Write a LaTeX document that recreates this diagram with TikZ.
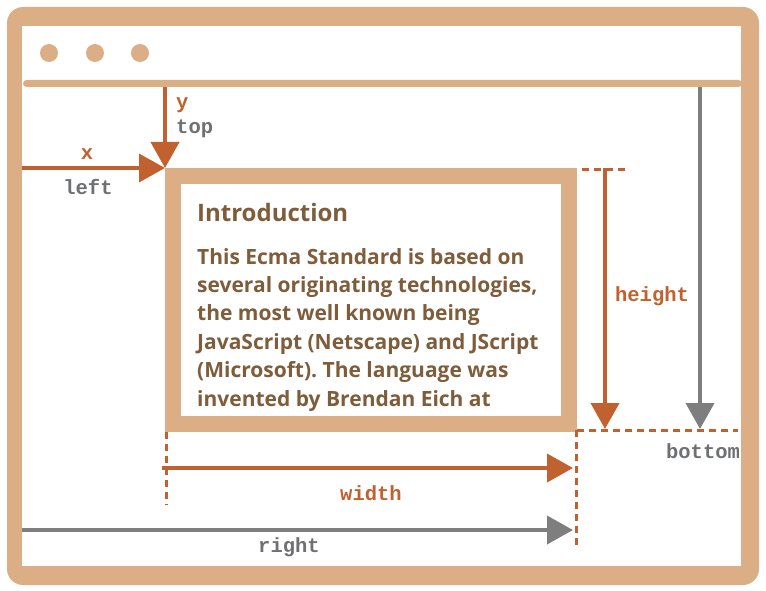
\documentclass[tikz,border=0pt]{standalone}
\usepackage{fontspec}
\setmainfont{Open Sans}
\newfontfamily\monolabel{Liberation Mono}
\usetikzlibrary{arrows.meta,positioning}
\definecolor{frametan}{HTML}{DCAE85}
\definecolor{dimorange}{HTML}{C0612F}
\definecolor{dimgrey}{HTML}{7E7E7E}
\definecolor{textbrown}{HTML}{7E5D3B}
\definecolor{labelgrey}{HTML}{6E7072}
\frenchspacing

\begin{document}
\begin{tikzpicture}[x=1pt,y=-1pt,>={Triangle[length=26pt,width=28pt]},
  dim line/.style={line width=4pt,->},
  orange dim/.style={dim line,draw=dimorange},
  grey dim/.style={dim line,draw=dimgrey},
  guide/.style={draw=dimorange,line width=3pt,dash pattern=on 7pt off 5pt},
  coord label/.style={font=\monolabel\bfseries\fontsize{20.5}{20.5}\selectfont,inner sep=0pt},
  orange label/.style={coord label,text=dimorange},
  grey label/.style={coord label,text=labelgrey}]
   \useasboundingbox (0,0) rectangle (766,591);
   % browser window
   \node[fill=frametan,rounded corners=16pt,minimum width=752pt,minimum height=578pt,inner sep=0pt] (window) at (383,296) {};
   \node[fill=white,minimum width=719pt,minimum height=540pt,inner sep=0pt] (viewport) at (381.5,296) {};
   \foreach \cx in {49,95,140}
     \fill[frametan] (\cx,53) circle (9pt);
   \node[fill=frametan,rounded corners=3.5pt,minimum width=719pt,minimum height=7pt,inner sep=0pt] (bar) at (382.5,83.5) {};
   % the element
   \node[draw=frametan,line width=16pt,minimum width=396pt,minimum height=248pt,inner sep=0pt] (elem) at (371,300) {};
   \node[anchor=base west,inner sep=0pt,text=textbrown,font=\bfseries\fontsize{24}{24}\selectfont] (title) at (197,222) {Introduction};
   \node[anchor=north west,inner sep=0pt,align=left,text=textbrown,font=\bfseries\fontsize{21}{28.4}\selectfont] (para) at (197,248)
     {This Ecma Standard is based on\\several originating technologies,\\the most well known being\\JavaScript (Netscape) and JScript\\(Microsoft). The language was\\invented by Brendan Eich at};
   % guides
   \coordinate (top guide) at (628,170);
   \coordinate (bottom guide) at (738,430);
   \coordinate (width guide) at (166,505);
   \coordinate (right guide) at (576,547);
   \draw[guide] (582,170) -- (top guide);
   \draw[guide] (577,430) -- (bottom guide);
   \draw[guide] (166,432) -- (width guide);
   \draw[guide] (576,430) -- (right guide);
   % arrows
   \coordinate (height top) at (605,168);
   \coordinate (height end) at (605,429);
   \coordinate (bottom top) at (700,87);
   \coordinate (bottom end) at (700,429);
   \coordinate (width start) at (162,468);
   \coordinate (width end) at (573,468);
   \coordinate (right start) at (22,530);
   \coordinate (right end) at (573,530);
   \draw[orange dim] (elem.north west |- bar.south) -- (elem.north west);
   \draw[orange dim] (viewport.west |- elem.north west) -- (elem.north west);
   \draw[orange dim] (height top) -- (height end);
   \draw[grey dim] (bottom top) -- (bottom end);
   \draw[orange dim] (width start) -- (width end);
   \draw[grey dim] (right start) -- (right end);
   % labels
   \node[orange label,anchor=west] (y label) at (176,105) {y};
   \node[grey label,anchor=west] (top label) at (176,129) {top};
   \node[orange label] (x label) at (87,154) {x};
   \node[grey label] (left label) at (88,187) {left};
   \node[orange label] (height label) at (652,296) {height};
   \node[grey label] (bottom label) at (703,451) {bottom};
   \node[orange label] (width label) at (371,493) {width};
   \node[grey label] (right label) at (289,547) {right};
\end{tikzpicture}
\end{document}
